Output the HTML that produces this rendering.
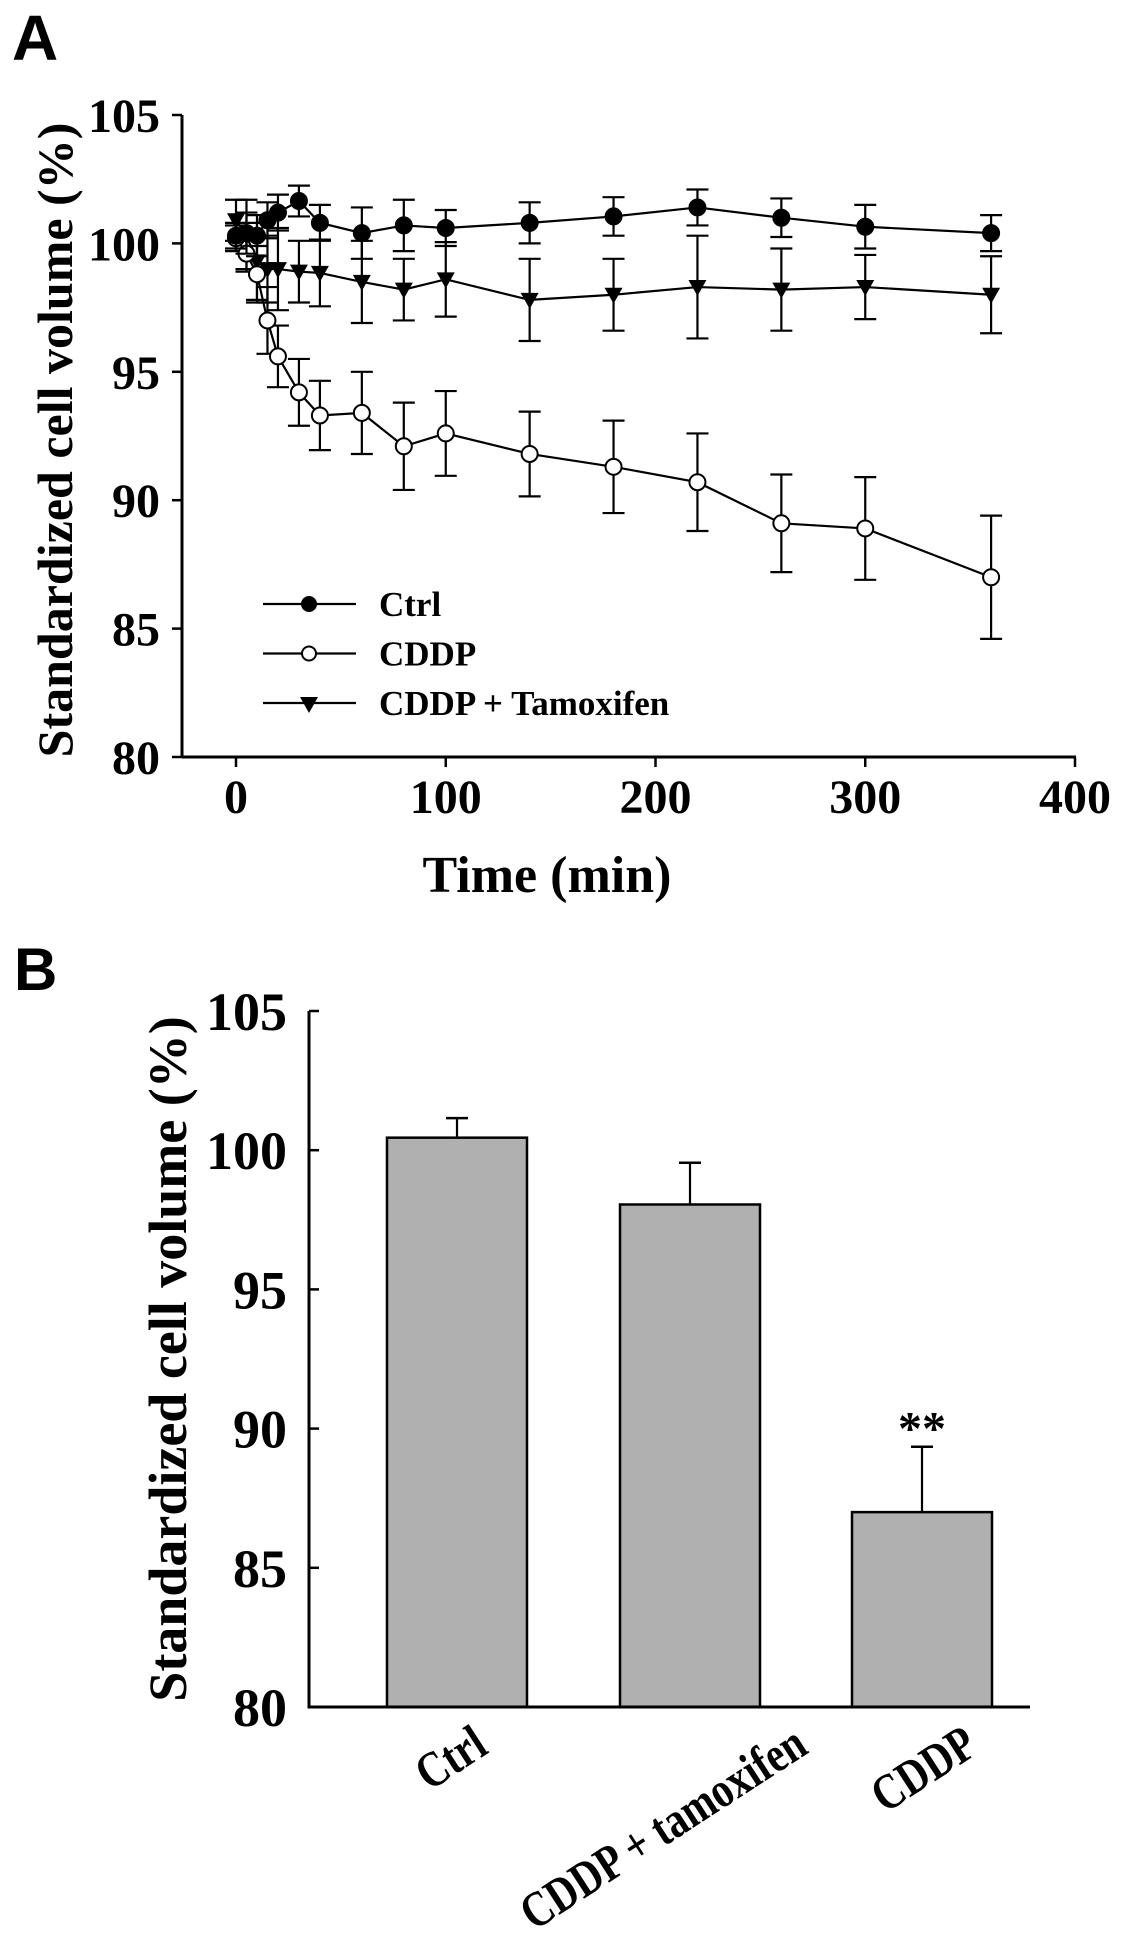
<!DOCTYPE html>
<html><head><meta charset="utf-8">
<style>
html,body{margin:0;padding:0;background:#fff;}
svg{display:block;}
.t{font-family:"Liberation Serif",serif;font-weight:bold;fill:#000;}
.s{font-family:"Liberation Sans",sans-serif;font-weight:bold;fill:#000;}
</style></head>
<body>
<svg id="fig" width="1129" height="1944" viewBox="0 0 1129 1944" xmlns="http://www.w3.org/2000/svg">
<text class="s" x="12" y="60" font-size="64">A</text>
<text class="s" x="14" y="990" font-size="60">B</text>
<g id="chartA"></g>
<g id="chartB"></g>
</svg>
<script>
const times = [0,5,10,15,20,30,40,60,80,100,140,180,220,260,300,360];
const ctrlVals = [100.3,100.4,100.3,100.9,101.2,101.65,100.8,100.4,100.7,100.6,100.8,101.05,101.4,101.0,100.65,100.4];
const ctrlErr  = [0.5,0.8,0.8,0.7,0.7,0.6,0.7,1.0,1.0,0.7,0.8,0.75,0.7,0.75,0.85,0.7];
const cddpVals = [100.2,99.6,98.8,97.0,95.6,94.2,93.3,93.4,92.1,92.6,91.8,91.3,90.7,89.1,88.9,87.0];
const cddpErr  = [0.5,0.6,1.1,1.3,1.2,1.3,1.35,1.6,1.7,1.65,1.65,1.8,1.9,1.9,2.0,2.4];
const tamVals  = [100.9,100.3,99.3,99.0,99.0,98.9,98.85,98.5,98.2,98.6,97.8,98.0,98.3,98.2,98.3,98.0];
const tamErr   = [0.8,1.4,1.5,1.3,1.6,1.2,1.3,1.6,1.2,1.45,1.6,1.4,2.0,1.6,1.25,1.5];
const yTicksA = [80,85,90,95,100,105];
const xTicksA = [0,100,200,300,400];
const legendLabels = ["Ctrl","CDDP","CDDP + Tamoxifen"];

const barCats = ["Ctrl","CDDP + tamoxifen","CDDP"];
const barVals = [100.45,98.05,87.0];
const barErr  = [0.7,1.5,2.35];
const barSig  = ["","","**"];
const yTicksB = [80,85,90,95,100,105];

const NS="http://www.w3.org/2000/svg";
function mk(parent,tag,attrs){const e=document.createElementNS(NS,tag);for(const k in attrs)e.setAttribute(k,attrs[k]);parent.appendChild(e);return e;}

// ---- Chart A ----
const A=document.getElementById('chartA');
const xA=t=>236+t*2.0975;
const yA=v=>757-(v-80)*25.68;
let e;
e=mk(A,'line',{x1:182,y1:yA(105),x2:182,y2:757,stroke:'#000','stroke-width':3});


e=mk(A,'line',{x1:182,y1:757,x2:xA(400)+1,y2:757,stroke:'#000','stroke-width':3});


yTicksA.forEach(v=>{
  mk(A,'line',{x1:172,y1:yA(v),x2:182,y2:yA(v),stroke:'#000','stroke-width':2.5});
  e=mk(A,'text',{x:160,y:yA(v)+17,'text-anchor':'end','font-size':48,class:'t'});
  e.textContent=v;
  
  
});
xTicksA.forEach(t=>{
  mk(A,'line',{x1:xA(t),y1:757,x2:xA(t),y2:767,stroke:'#000','stroke-width':2.5});
  e=mk(A,'text',{x:xA(t),y:813,'text-anchor':'middle','font-size':48,class:'t'});
  e.textContent=t;
  
  
});
e=mk(A,'text',{x:547,y:892,'text-anchor':'middle','font-size':52,class:'t'});
e.textContent='Time (min)';


e=mk(A,'text',{x:0,y:0,'text-anchor':'middle','font-size':50,class:'t',transform:'translate(72,440) rotate(-90)'});
e.textContent='Standardized cell volume (%)';



function marker(g,type,cx,cy){
  if(type==='fill') return mk(g,'circle',{cx:cx,cy:cy,r:8,fill:'#000',stroke:'#000','stroke-width':2});
  if(type==='open') return mk(g,'circle',{cx:cx,cy:cy,r:8,fill:'#fff',stroke:'#000','stroke-width':2});
  return mk(g,'path',{d:`M${cx-9},${cy-7} L${cx+9},${cy-7} L${cx},${cy+9} Z`,fill:'#000'});
}
function series(vals,errs,type,name){
  const g=mk(A,'g',{});
  
  
  vals.forEach((v,i)=>{
    const x=xA(times[i]);
    mk(g,'line',{x1:x,y1:yA(v+errs[i]),x2:x,y2:yA(v-errs[i]),stroke:'#000','stroke-width':2.2});
    mk(g,'line',{x1:x-11,y1:yA(v+errs[i]),x2:x+11,y2:yA(v+errs[i]),stroke:'#000','stroke-width':2.2});
    mk(g,'line',{x1:x-11,y1:yA(v-errs[i]),x2:x+11,y2:yA(v-errs[i]),stroke:'#000','stroke-width':2.2});
  });
  mk(g,'polyline',{points:vals.map((v,i)=>xA(times[i])+','+yA(v)).join(' '),fill:'none',stroke:'#000','stroke-width':2.2});
  vals.forEach((v,i)=>{
    const m=marker(g,type,xA(times[i]),yA(v));
    
    
  });
}
series(tamVals,tamErr,'tri','series-cddp-tamoxifen');
series(cddpVals,cddpErr,'open','series-cddp');
series(ctrlVals,ctrlErr,'fill','series-ctrl');

const legTypes=['fill','open','tri'];
legendLabels.forEach((lab,i)=>{
  const y=604+i*49.5;
  const g=mk(A,'g',{});
  
  
  mk(g,'line',{x1:263,y1:y,x2:356,y2:y,stroke:'#000','stroke-width':2.2});
  if(legTypes[i]==='tri') mk(g,'path',{d:`M${300},${y-6} L${318},${y-6} L${309},${y+10} Z`,fill:'#000'});
  else mk(g,'circle',{cx:309,cy:y,r:7,fill:legTypes[i]==='fill'?'#000':'#fff',stroke:'#000','stroke-width':2});
  const t=mk(g,'text',{x:379,y:y+12,'font-size':35,class:'t'});
  t.textContent=lab;
});

// ---- Chart B ----
const B=document.getElementById('chartB');
const yB=v=>1707-(v-80)*27.84;
const barCenters=[457,690,922];
const barW=140;
const labelDx=[33,120,58];
yTicksB.forEach(v=>{
  mk(B,'line',{x1:309,y1:yB(v),x2:319,y2:yB(v),stroke:'#000','stroke-width':2.5});
  e=mk(B,'text',{x:287,y:yB(v)+19,'text-anchor':'end','font-size':54,class:'t'});
  e.textContent=v;
  
  
});
barVals.forEach((v,i)=>{
  const cx=barCenters[i];
  const ey=yB(v+barErr[i]);
  mk(B,'line',{x1:cx,y1:ey,x2:cx,y2:yB(v),stroke:'#000','stroke-width':2.2});
  mk(B,'line',{x1:cx-11,y1:ey,x2:cx+11,y2:ey,stroke:'#000','stroke-width':2.5});
  e=mk(B,'rect',{x:cx-barW/2,y:yB(v),width:barW,height:1707-yB(v),fill:'#b0b0b0',stroke:'#000','stroke-width':2.5});
  
  
  if(barSig[i]){
    e=mk(B,'text',{x:cx,y:ey-2,'text-anchor':'middle','font-size':48,class:'t'});
    e.textContent=barSig[i];
    
    
  }
  e=mk(B,'text',{x:0,y:0,'text-anchor':'end','font-size':48,class:'t',transform:`translate(${cx+labelDx[i]},${1752}) rotate(-33) scale(0.85,1.05)`});
  e.textContent=barCats[i];
  
  
});
e=mk(B,'line',{x1:309,y1:1011,x2:309,y2:1707,stroke:'#000','stroke-width':3});


e=mk(B,'line',{x1:307.5,y1:1707,x2:1030,y2:1707,stroke:'#000','stroke-width':3});


e=mk(B,'text',{x:0,y:0,'text-anchor':'middle','font-size':54,class:'t',transform:'translate(186,1359) rotate(-90)'});
e.textContent='Standardized cell volume (%)';


</script>
</body></html>
